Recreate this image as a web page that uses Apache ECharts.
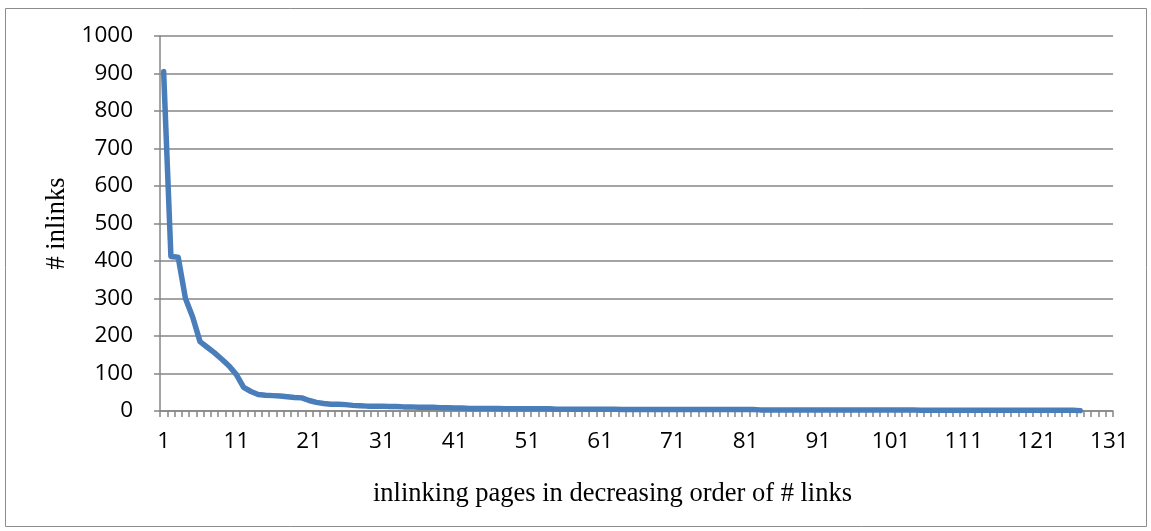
<!DOCTYPE html>
<html>
<head>
<meta charset="utf-8">
<script src="https://cdn.jsdelivr.net/npm/echarts@6/dist/echarts.min.js"></script>
<style>
  html, body { margin: 0; padding: 0; background: #fff; }
  #chart { width: 1151px; height: 531px; }
</style>
</head>
<body>
<div id="chart"></div>
<script>
// Category labels: 1..131 (pages)
const categories = [];
for (let i = 1; i <= 131; i++) categories.push(String(i));

// # inlinks per page (127 pages with data)
const inlinksHead = [905, 412, 410, 300, 250, 185, 170, 155, 138, 120,
  97, 63, 52, 44, 42, 41, 40, 38, 36, 35,
  28, 23, 20, 18, 18, 17, 15, 14, 13, 13,
  13, 12, 12, 11, 11, 10, 10, 10, 9, 9,
  8, 8, 7, 7, 7, 7, 7, 6, 6, 6,
  6, 6, 6, 6, 5, 5, 5, 5, 5, 5,
  5, 5, 5, 4, 4, 4, 4, 4, 4, 4];
const inlinksMid = [4, 4, 4, 4, 4, 4, 4, 4, 4, 4,
  4, 4, 3, 3, 3, 3, 3, 3, 3, 3,
  3, 3, 3, 3, 3, 3, 3, 3, 3, 3,
  3, 3, 3, 3];
const inlinksTail = [2, 2, 2, 2, 2, 2, 2, 2, 2, 2,
  2, 2, 2, 2, 2, 2, 2, 2, 2, 2,
  2, 2, 1];
const inlinks = inlinksHead.concat(inlinksMid, inlinksTail);

const yTicks = { min: 0, max: 1000, interval: 100 };

const chart = echarts.init(document.getElementById('chart'), null, { renderer: 'canvas' });
chart.setOption({
  animation: false,
  backgroundColor: '#ffffff',
  graphic: [{
    type: 'rect',
    shape: { x: 5.5, y: 8.5, width: 1141, height: 518 },
    style: { fill: 'none', stroke: '#8c8c8c', lineWidth: 1 },
    silent: true
  }],
  grid: { left: 160, right: 38, top: 36, bottom: 120, containLabel: false },
  xAxis: {
    type: 'category',
    data: categories,
    boundaryGap: true,
    name: 'inlinking pages in decreasing order of # links',
    nameLocation: 'middle',
    nameGap: 70,
    nameTextStyle: { fontFamily: 'Liberation Serif', fontSize: 26.5, color: '#000', padding: [0, 48, 0, 0] },
    axisLine: { lineStyle: { color: '#868686', width: 1.5 } },
    axisTick: { show: true, interval: 0, length: 6, inside: false, lineStyle: { color: '#868686', width: 1.5 } },
    axisLabel: { interval: 9, margin: 19, fontFamily: 'Open Sans', fontSize: 22.5, color: '#000' },
    splitLine: { show: false }
  },
  yAxis: {
    type: 'value',
    min: yTicks.min, max: yTicks.max, interval: yTicks.interval,
    name: '# inlinks',
    nameLocation: 'middle',
    nameGap: 89,
    nameRotate: 90,
    nameTextStyle: { fontFamily: 'Liberation Serif', fontSize: 26.5, color: '#000' },
    axisLine: { show: true, lineStyle: { color: '#868686', width: 1.5 } },
    axisTick: { show: true, length: 6, lineStyle: { color: '#868686', width: 1.5 } },
    axisLabel: { margin: 27, fontFamily: 'Open Sans', fontSize: 22.5, color: '#000', formatter: function (v) { return String(v); } },
    splitLine: { show: true, lineStyle: { color: '#868686', width: 1.5 } }
  },
  series: [{
    type: 'line',
    data: inlinks,
    showSymbol: false,
    symbol: 'none',
    lineStyle: { color: '#4a7ebb', width: 5.5, cap: 'round', join: 'round' },
    itemStyle: { color: '#4a7ebb' }
  }]
});
</script>
</body>
</html>
